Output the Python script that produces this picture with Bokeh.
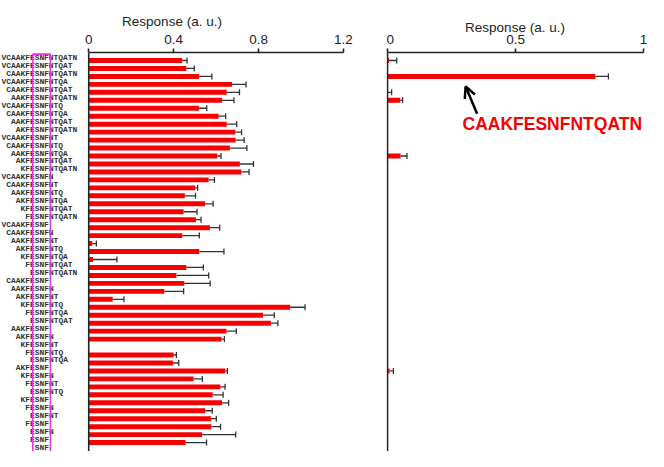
import numpy as np
from bokeh.plotting import figure
from bokeh.models import (Range1d, ColumnDataSource, Whisker, TeeHead, Span, FixedTicker,
                          Arrow, OpenHead, Label)
from bokeh.layouts import row
from bokeh.core.properties import value
from bokeh.embed import file_html
from bokeh.resources import INLINE

# ---------------- data ----------------
full_sequence = "VCAAKFESNFNTQATN"

peptides = [
    "VCAAKFESNFNTQATN", "VCAAKFESNFNTQAT", "CAAKFESNFNTQATN", "VCAAKFESNFNTQA",
    "CAAKFESNFNTQAT", "AAKFESNFNTQATN", "VCAAKFESNFNTQ", "CAAKFESNFNTQA",
    "AAKFESNFNTQAT", "AKFESNFNTQATN", "VCAAKFESNFNT", "CAAKFESNFNTQ",
    "AAKFESNFNTQA", "AKFESNFNTQAT", "KFESNFNTQATN", "VCAAKFESNFN",
    "CAAKFESNFNT", "AAKFESNFNTQ", "AKFESNFNTQA", "KFESNFNTQAT",
    "FESNFNTQATN", "VCAAKFESNF", "CAAKFESNFN", "AAKFESNFNT",
    "AKFESNFNTQ", "KFESNFNTQA", "FESNFNTQAT", "ESNFNTQATN",
    "CAAKFESNF", "AAKFESNFN", "AKFESNFNT", "KFESNFNTQ",
    "FESNFNTQA", "ESNFNTQAT", "AAKFESNF", "AKFESNFN",
    "KFESNFNT", "FESNFNTQ", "ESNFNTQA", "AKFESNF",
    "KFESNFN", "FESNFNT", "ESNFNTQ", "KFESNF",
    "FESNFN", "ESNFNT", "FESNF", "ESNFN",
    "ESNF", "SNF",
]

left_response = [
    0.440, 0.460, 0.520, 0.675, 0.650, 0.628, 0.520, 0.612, 0.650, 0.690,
    0.692, 0.665, 0.606, 0.712, 0.719, 0.565, 0.502, 0.453, 0.548, 0.447,
    0.505, 0.571, 0.441, 0.017, 0.521, 0.020, 0.460, 0.413, 0.450, 0.356,
    0.113, 0.949, 0.821, 0.858, 0.649, 0.626, None, 0.400, 0.397, 0.643,
    0.494, 0.620, 0.584, 0.628, 0.549, 0.576, 0.577, 0.534, 0.456, None,
]
left_error = [
    0.023, 0.037, 0.060, 0.066, 0.060, 0.056, 0.036, 0.033, 0.047, 0.030,
    0.040, 0.080, 0.017, 0.064, 0.036, 0.027, 0.011, 0.050, 0.038, 0.063,
    0.024, 0.046, 0.080, 0.019, 0.116, 0.113, 0.080, 0.152, 0.122, 0.091,
    0.053, 0.070, 0.053, 0.033, 0.046, 0.013, None, 0.013, 0.027, 0.010,
    0.041, 0.022, 0.049, 0.031, 0.033, 0.025, 0.044, 0.158, 0.099, None,
]

right_peptides = ["VCAAKFESNFNTQATN", "CAAKFESNFNTQATN", "CAAKFESNFNTQAT",
                  "AAKFESNFNTQATN", "AAKFESNFNTQA", "AKFESNF"]
right_response = [0.006, 0.812, 0.002, 0.050, 0.051, 0.008]
right_error = [0.030, 0.051, 0.014, 0.009, 0.025, 0.015]

left_ticks = [0, 0.4, 0.8, 1.2]
left_tick_labels = ["0", "0.4", "0.8", "1.2"]
right_ticks = [0, 0.5, 1]
right_tick_labels = ["0", "0.5", "1"]
axis_title = "Response (a. u.)"
highlight = "CAAKFESNFNTQATN"

# ---------------- styling ----------------
BAR = "#f70000"
INK = "#222222"
SANS = "Liberation Sans"
Y_RANGE = (50.12, -0.005)   # row 1 at top
H = 451
TOP = 52


def style_axis(ax, ticks, labels, bounds, standoff):
    ax.ticker = FixedTicker(ticks=ticks, minor_ticks=[])
    ax.major_label_overrides = {t: l for t, l in zip(ticks, labels)}
    ax.bounds = bounds
    ax.axis_label = axis_title
    ax.axis_label_text_font = SANS
    ax.axis_label_text_font_style = "normal"
    ax.axis_label_text_font_size = "13.5px"
    ax.axis_label_text_color = INK
    ax.axis_label_standoff = standoff
    ax.major_label_text_font = SANS
    ax.major_label_text_font_size = "13.5px"
    ax.major_label_text_color = INK
    ax.major_label_standoff = 5
    ax.axis_line_color = INK
    ax.axis_line_width = 1.6
    ax.major_tick_line_color = INK
    ax.major_tick_line_width = 1.6
    ax.major_tick_out = 4
    ax.major_tick_in = 0
    ax.minor_tick_line_color = None


def bar_source(names, vals, errs):
    rows, v, hi = [], [], []
    for n, a, e in zip(names, vals, errs):
        if a is None:
            continue
        rows.append(peptides.index(n) + 1)
        v.append(a)
        hi.append(a + e)
    return ColumnDataSource(dict(row=rows, val=v, hi=hi))


# ---------------- left panel (labels + bars) ----------------
p = figure(width=386, height=H, output_backend="svg", toolbar_location=None,
           x_range=Range1d(-0.4155, 1.2), y_range=Range1d(*Y_RANGE),
           x_axis_location="above", y_axis_location=None,
           min_border_left=0, min_border_right=43, min_border_top=TOP, min_border_bottom=0)
p.extra_x_ranges = {"chars": Range1d(-0.21, 72.0)}
p.grid.visible = False
p.outline_line_color = None
p.background_fill_color = "white"
p.border_fill_color = "white"
style_axis(p.xaxis[0], left_ticks, left_tick_labels, (0, 1.2), 3)

lab_src = ColumnDataSource(dict(
    start=[full_sequence.find(s) for s in peptides],
    row=list(range(1, len(peptides) + 1)),
    pep=peptides,
))
p.text(x="start", y="row", text="pep", source=lab_src, x_range_name="chars",
       text_font=value("Liberation Mono"), text_font_style="bold", text_font_size="7.9px",
       text_color="#333333", text_align="left", text_baseline="middle", y_offset=-3)

# magenta frame around the ESNF core
p.quad(left=[6.59], right=[10.3], top=[0.2], bottom=[60], x_range_name="chars",
       fill_color=None, line_color="#e03ce0", line_width=1.6)

lsrc = bar_source(peptides, left_response, left_error)
p.hbar(y="row", left=0, right="val", height=0.62, source=lsrc, fill_color=BAR, line_color=None)
p.add_layout(Whisker(source=lsrc, base="row", lower="val", upper="hi", dimension="width",
                     line_color="#333333", line_width=1.3, lower_head=None,
                     upper_head=TeeHead(size=6, line_color="#333333", line_width=1.3)))
p.add_layout(Span(location=0, dimension="height", line_color=INK, line_width=1.6))

# ---------------- right panel ----------------
q = figure(width=262, height=H, output_backend="svg", toolbar_location=None,
           x_range=Range1d(-0.004, 1.0), y_range=Range1d(*Y_RANGE),
           x_axis_location="above", y_axis_location=None,
           min_border_left=0, min_border_right=5, min_border_top=TOP, min_border_bottom=0)
q.grid.visible = False
q.outline_line_color = None
q.background_fill_color = "white"
q.border_fill_color = "white"
style_axis(q.xaxis[0], right_ticks, right_tick_labels, (0, 1), -3)

rsrc = bar_source(right_peptides, right_response, right_error)
q.hbar(y="row", left=0, right="val", height=0.62, source=rsrc, fill_color=BAR, line_color=None)
q.add_layout(Whisker(source=rsrc, base="row", lower="val", upper="hi", dimension="width",
                     line_color="#333333", line_width=1.3, lower_head=None,
                     upper_head=TeeHead(size=6, line_color="#333333", line_width=1.3)))
q.add_layout(Span(location=0, dimension="height", line_color=INK, line_width=1.6))

q.add_layout(Arrow(end=OpenHead(size=11, line_width=2.5, line_color="black"),
                   x_start=0.350, y_start=7.70, x_end=0.305, y_end=4.27,
                   line_color="black", line_width=2.5))
q.add_layout(Label(x=0.293, y=8.98, text=highlight, text_color="#f70000",
                   text_font=SANS, text_font_style="bold", text_font_size="17.5px",
                   text_baseline="middle", text_align="left"))

layout = row(p, q)
open("out.html", "w").write(file_html(layout, INLINE))
